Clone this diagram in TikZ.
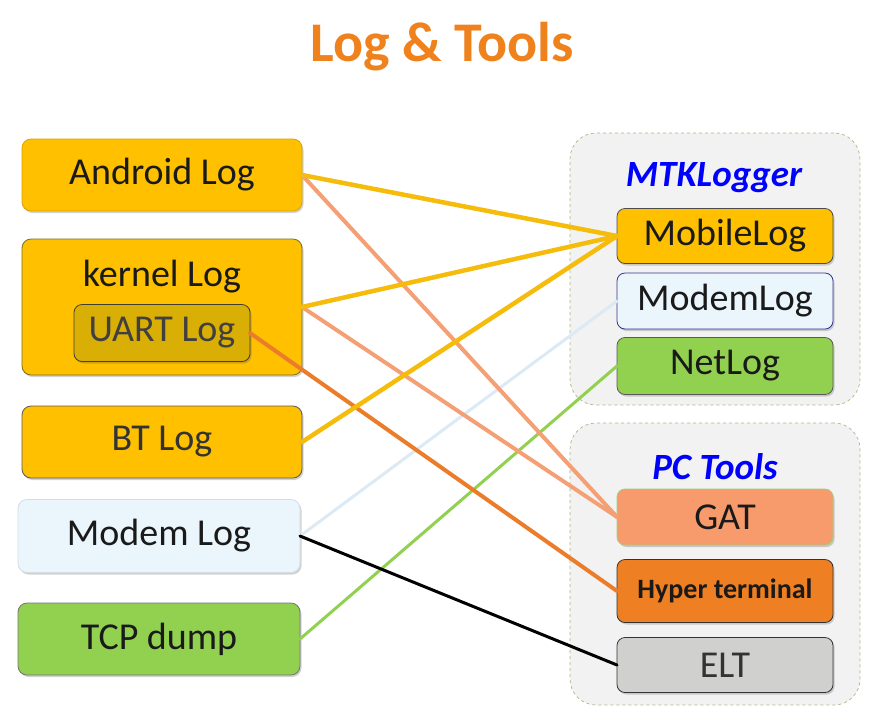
\documentclass[tikz,border=0pt]{standalone}
\usepackage{fontspec}
\setmainfont{Carlito}
\usetikzlibrary{shadows}
\definecolor{gold}{HTML}{FFC000}
\definecolor{goldline}{HTML}{F5BC0C}
\definecolor{uartfill}{HTML}{D9AE05}
\definecolor{lightblue}{HTML}{EAF5FC}
\definecolor{lbline}{HTML}{DCEAF5}
\definecolor{green1}{HTML}{92D050}
\definecolor{salmon}{HTML}{F89B6C}
\definecolor{salmonline}{HTML}{F4A074}
\definecolor{orange1}{HTML}{EE7F22}
\definecolor{orangeline}{HTML}{EB7C2A}
\definecolor{eltgray}{HTML}{D0D0CE}
\definecolor{titleorange}{HTML}{F0821E}
\definecolor{groupfill}{HTML}{F2F2F2}
\definecolor{groupline}{HTML}{A9B982}
\definecolor{txt}{HTML}{1A1A1A}
\tikzset{
  box/.style={rectangle, rounded corners=9pt, inner sep=0pt, outer sep=0pt,
    line width=0.8pt, text=txt, font=\fontsize{38}{44}\selectfont,
    drop shadow={shadow xshift=1.5pt, shadow yshift=-2pt, opacity=0.25, fill=black!70}},
  group/.style={rectangle, rounded corners=26pt, inner sep=0pt, outer sep=0pt,
    fill=groupfill, draw=groupline, dashed, line width=0.7pt},
  grouptitle/.style={text=blue, font=\fontsize{37}{42}\selectfont\bfseries\itshape},
  link/.style={line cap=round}
}
\begin{document}
\begin{tikzpicture}[x=1pt,y=-1pt]
\useasboundingbox (0,0) rectangle (885,716);
% title
\node (title) at (442,47) {\textcolor{titleorange}{\fontsize{56}{62}\selectfont\bfseries Log \& Tools}};
% groups
\node[group, minimum width=290pt, minimum height=272pt] (mtk) at (715,269) {};
\node[group, minimum width=290pt, minimum height=282pt] (pc) at (715,564) {};
\node[grouptitle] (mtkt) at (714,178) {MTKLogger};
\node[grouptitle] (pct) at (715,467) {PC Tools};
% left boxes
\node[box, fill=gold, draw=gold!85!black, minimum width=280pt, minimum height=72pt] (android) at (162,175) {Android Log};
\node[box, fill=gold, draw=olive!80!black, minimum width=280pt, minimum height=136pt] (kernel) at (162,307) {};
\node[text=txt, font=\fontsize{38}{44}\selectfont] (kernelt) at (162,277) {kernel Log};
\node[box, fill=uartfill, draw=black!70!olive, minimum width=176pt, minimum height=57pt, rounded corners=8pt, drop shadow={opacity=0}] (uart) at (162,333) {\textcolor{black!75}{UART Log}};
\node[box, fill=gold, draw=black!65, minimum width=280pt, minimum height=72pt] (bt) at (162,442) {\textcolor{black!80}{BT Log}};
\node[box, fill=lightblue, draw=lightblue!80!gray, minimum width=282pt, minimum height=73pt] (modem) at (159,536) {Modem Log};
\node[box, fill=green1, draw=black!55, minimum width=282pt, minimum height=72pt] (tcp) at (159,639) {TCP dump};
% right boxes
\node[box, fill=gold, draw=black!70, minimum width=216pt, minimum height=55pt, rounded corners=8pt] (mobile) at (725,236) {MobileLog};
\node[box, fill=lightblue, draw=black!40!blue!60!gray, minimum width=216pt, minimum height=56pt, rounded corners=8pt] (modemlog) at (725,301) {ModemLog};
\node[box, fill=green1, draw=black!65, minimum width=216pt, minimum height=57pt, rounded corners=8pt] (netlog) at (725,366) {NetLog};
\node[box, fill=salmon, draw=olive!40!green!50, minimum width=216pt, minimum height=56pt, rounded corners=8pt] (gat) at (725,517) {GAT};
\node[box, fill=orange1, draw=black!80, minimum width=216pt, minimum height=63pt, rounded corners=8pt, font=\fontsize{28}{32}\selectfont\bfseries] (hyper) at (725,591) {Hyper terminal};
\node[box, fill=eltgray, draw=black!80, minimum width=216pt, minimum height=55pt, rounded corners=8pt] (elt) at (725,665) {\textcolor{black!80}{ELT}};
% connectors
\draw[link, draw=lbline, line width=3pt] (modem.east) -- (modemlog.west);
\draw[link, draw=green1, line width=3pt] (tcp.east) -- (netlog.west);
\draw[link, draw=black, line width=3pt] (modem.east) -- (elt.west);
\draw[link, draw=orangeline, line width=4pt] (uart.east) -- (hyper.west);
\draw[link, draw=salmonline, line width=4pt] (android.east) -- (gat.west);
\draw[link, draw=salmonline, line width=4pt] (kernel.east) -- (gat.west);
\draw[link, draw=goldline, line width=4.5pt] (android.east) -- (mobile.west);
\draw[link, draw=goldline, line width=4.5pt] (kernel.east) -- (mobile.west);
\draw[link, draw=goldline, line width=4.5pt] (bt.east) -- (mobile.west);
\end{tikzpicture}
\end{document}
